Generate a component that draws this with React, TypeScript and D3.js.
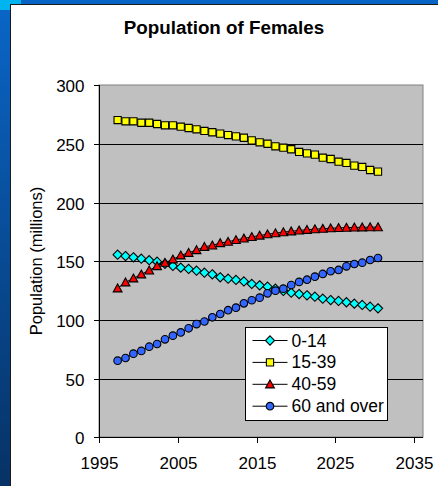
import React from 'react';
import * as d3 from 'd3';

// Female population by age group, millions
const years = [
  1997, 1998, 1999, 2000, 2001, 2002, 2003, 2004, 2005, 2006, 2007, 2008,
  2009, 2010, 2011, 2012, 2013, 2014, 2015, 2016, 2017, 2018, 2019, 2020,
  2021, 2022, 2023, 2024, 2025, 2026, 2027, 2028, 2029, 2030,
];
const ages0to14 = [
  155.6, 154.5, 153.4, 152.2, 150.9, 149.7, 147.9, 146.0, 144.6, 143.5, 142.0, 140.3,
  138.9, 136.4, 135.2, 134.1, 132.8, 130.7, 129.5, 128.4, 126.7, 124.7, 123.2, 122.1,
  121.0, 119.8, 118.1, 117.0, 116.2, 115.1, 113.9, 112.8, 111.3, 109.9,
];
const ages15to39 = [
  270.4, 269.3, 269.3, 268.1, 268.1, 267.0, 265.9, 265.9, 264.7, 263.6, 262.5, 261.1,
  260.0, 258.8, 257.6, 256.5, 255.3, 253.1, 251.4, 250.2, 248.0, 246.8, 245.5, 243.2,
  242.0, 240.9, 238.3, 237.2, 234.9, 233.8, 231.5, 230.4, 227.8, 226.4,
];
const ages40to59 = [
  127.0, 132.1, 135.5, 138.9, 142.3, 146.0, 148.8, 151.7, 155.1, 157.3, 159.6, 162.4,
  163.6, 165.6, 166.7, 168.2, 169.5, 170.8, 172.0, 173.1, 174.0, 174.9, 175.6, 176.3,
  176.9, 177.4, 177.8, 178.2, 178.5, 178.7, 178.9, 179.0, 179.1, 179.1,
];
const ages60plus = [
  65.3, 67.6, 71.3, 73.6, 77.2, 79.5, 83.5, 86.6, 89.4, 92.9, 96.5, 98.7,
  102.3, 105.1, 108.3, 110.5, 114.2, 116.8, 119.0, 122.7, 125.0, 126.7, 129.8, 132.4,
  134.3, 136.9, 139.2, 141.5, 142.6, 145.7, 147.7, 148.8, 151.1, 152.8,
];
const seriesNames = ['0-14', '15-39', '40-59', '60 and over'];
const xTicks = [1995, 2005, 2015, 2025, 2035];
const yTicks = [0, 50, 100, 150, 200, 250, 300];

type Marker = 'diamond' | 'square' | 'triangle' | 'circle';

const seriesStyle: { fill: string; marker: Marker }[] = [
  { fill: '#00FFFF', marker: 'diamond' },
  { fill: '#FFFF00', marker: 'square' },
  { fill: '#FF0000', marker: 'triangle' },
  { fill: '#3366FF', marker: 'circle' },
];

const W = 438;
const H = 486;
const plot = { left: 99, right: 423, top: 85, bottom: 437 };
const FONT = '"Liberation Sans", Arial, sans-serif';
// points are plotted at mid-year position
const midYear = 0.4;

const x = d3.scaleLinear().domain([1995, 2035]).range([98.7, 414.3]);
const y = d3.scaleLinear().domain([0, 300]).range([437.3, 85.3]);

function markerPath(kind: Marker, cx: number, cy: number): string {
  const p = d3.path();
  if (kind === 'square') {
    const h = 3.6;
    p.rect(cx - h, cy - h, 2 * h, 2 * h);
  } else if (kind === 'diamond') {
    const h = 4.6;
    p.moveTo(cx, cy - h);
    p.lineTo(cx + h, cy);
    p.lineTo(cx, cy + h);
    p.lineTo(cx - h, cy);
    p.closePath();
  } else if (kind === 'triangle') {
    p.moveTo(cx, cy - 4.3);
    p.lineTo(cx + 4.4, cy + 3.6);
    p.lineTo(cx - 4.4, cy + 3.6);
    p.closePath();
  } else {
    p.arc(cx, cy, 3.8, 0, Math.PI * 2);
  }
  return p.toString();
}

export default function App() {
  const allSeries = [ages0to14, ages15to39, ages40to59, ages60plus];
  const line = d3
    .line<number>()
    .x((_, i) => x(years[i] + midYear))
    .y((d) => y(d));

  const legend = { x: 245.5, y: 327.5, w: 142, h: 93, row0: 340.5, rowStep: 21.9 };

  return (
    <svg
      width={W}
      height={H}
      viewBox={`0 0 ${W} ${H}`}
      style={{ position: 'fixed', left: 0, top: 0, display: 'block' }}
    >
      <defs>
        <linearGradient id="sideBand" x1="0" y1="0" x2="0" y2="1">
          <stop offset="0" stopColor="#0A66C8" />
          <stop offset="1" stopColor="#073265" />
        </linearGradient>
      </defs>

      {/* slide backdrop */}
      <rect x={0} y={0} width={W} height={H} fill="url(#sideBand)" />
      <rect x={0} y={0} width={W} height={5} fill="#0764C6" />
      <rect x={0} y={0} width={21} height={4} fill="#00B4F0" />
      <rect x={0} y={0} width={10} height={10} fill="#00B4F0" />
      <rect x={10.5} y={4.5} width={W} height={H} fill="#FFFFFF" stroke="#1A1A1A" strokeWidth={1} />

      {/* title */}
      <text x={224} y={34} textAnchor="middle" fontFamily={FONT} fontWeight="bold" fontSize={18.8} fill="#000">
        Population of Females
      </text>

      {/* plot area */}
      <rect
        x={plot.left}
        y={plot.top}
        width={plot.right - plot.left}
        height={plot.bottom - plot.top}
        fill="#C0C0C0"
        stroke="#808080"
        strokeWidth={1}
      />
      {yTicks
        .filter((t) => t > 0 && t < 300)
        .map((t) => (
          <line key={`g${t}`} x1={plot.left} x2={plot.right} y1={Math.round(y(t)) + 0.5} y2={Math.round(y(t)) + 0.5} stroke="#000" strokeWidth={1} />
        ))}

      {/* axes */}
      <line x1={plot.left + 0.5} x2={plot.left + 0.5} y1={plot.top} y2={plot.bottom} stroke="#000" strokeWidth={1} />
      <line x1={plot.left} x2={plot.right} y1={plot.bottom + 0.5} y2={plot.bottom + 0.5} stroke="#000" strokeWidth={1} />
      {yTicks.map((t) => {
        const yy = Math.round(y(t)) + 0.5;
        return (
          <g key={`y${t}`}>
            <line x1={plot.left - 5} x2={plot.left} y1={yy} y2={yy} stroke="#000" />
            <text x={84.5} y={yy + 6} textAnchor="end" fontFamily={FONT} fontSize={17} fill="#000">
              {t}
            </text>
          </g>
        );
      })}
      {xTicks.map((t) => {
        const xx = Math.round(x(t)) + 0.5;
        return (
          <g key={`x${t}`}>
            <line x1={xx} x2={xx} y1={plot.bottom} y2={plot.bottom + 6} stroke="#000" />
            <text x={xx} y={469} textAnchor="middle" fontFamily={FONT} fontSize={17} fill="#000">
              {t}
            </text>
          </g>
        );
      })}
      <text
        transform={`translate(42,261) rotate(-90)`}
        textAnchor="middle"
        fontFamily={FONT}
        fontSize={16.5}
        fill="#000"
      >
        Population (millions)
      </text>

      {/* series */}
      {allSeries.map((vals, si) => (
        <g key={`s${si}`}>
          <path d={line(vals) ?? ''} fill="none" stroke="#000" strokeWidth={1} />
          {vals.map((v, i) => (
            <path
              key={i}
              d={markerPath(seriesStyle[si].marker, x(years[i] + midYear), y(v))}
              fill={seriesStyle[si].fill}
              stroke="#000"
              strokeWidth={1.1}
            />
          ))}
        </g>
      ))}

      {/* legend */}
      <rect x={legend.x} y={legend.y} width={legend.w} height={legend.h} fill="#FFFFFF" stroke="#000" strokeWidth={1} />
      {seriesNames.map((name, i) => {
        const ry = legend.row0 + i * legend.rowStep;
        return (
          <g key={`l${i}`}>
            <line x1={252.5} x2={287.5} y1={ry} y2={ry} stroke="#000" strokeWidth={1} />
            <path d={markerPath(seriesStyle[i].marker, 270, ry)} fill={seriesStyle[i].fill} stroke="#000" strokeWidth={1.1} />
            <text x={291.5} y={ry + 6} fontFamily={FONT} fontSize={17.5} fill="#000">
              {name}
            </text>
          </g>
        );
      })}
    </svg>
  );
}
